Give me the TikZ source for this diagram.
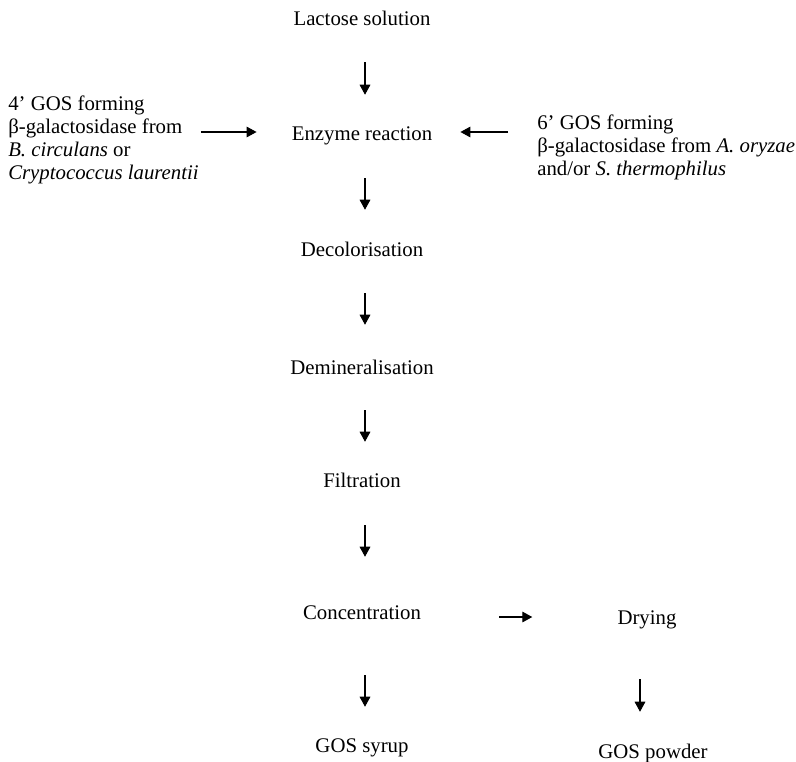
\documentclass[tikz,border=0pt]{standalone}
\usepackage{fontspec}
\setmainfont{Liberation Serif}
\usetikzlibrary{arrows.meta,calc}
\begin{document}
\begin{tikzpicture}[x=0.75pt,y=-0.75pt,
  every node/.style={inner sep=0pt},
  stepbox/.style={font=\fontsize{15.6}{17}\selectfont, text height=7.5pt, text depth=0pt},
  notebox/.style={align=left, anchor=north west, font=\fontsize{15.6}{17.25}\selectfont},
  flow/.style={line width=0.8pt, -{Triangle[length=7.5pt,width=8pt]}}]
\useasboundingbox (0,0) rectangle (796,761);

% main process column
\node[stepbox] (lac) at (362,20)  {Lactose solution};
\node[stepbox] (enz) at (362,135) {Enzyme reaction};
\node[stepbox] (dec) at (362,251) {Decolorisation};
\node[stepbox] (dem) at (362,369) {Demineralisation};
\node[stepbox] (fil) at (362,482) {Filtration};
\node[stepbox] (con) at (362,614) {Concentration};
\node[stepbox] (syr) at (362,747) {GOS syrup};

% drying branch
\node[stepbox] (dry) at (647,619) {Drying};
\node[stepbox] (pow) at (653,753) {GOS powder};

% enzyme sources
\node[notebox] (left) at (8,96)
  {4’ GOS forming\\ β-galactosidase from\\ \textit{B. circulans} or\\ \textit{Cryptococcus laurentii}};
\node[notebox] (right) at (537,115)
  {6’ GOS forming\\ β-galactosidase from \textit{A. oryzae}\\ and/or \textit{S. thermophilus}};

% vertical flow
\draw[flow] ([shift={(3,37)}]lac.south) -- ([shift={(3,-35)}]enz.north);
\draw[flow] ([shift={(3,38)}]enz.south) -- ([shift={(3,-36)}]dec.north);
\draw[flow] ([shift={(3,37)}]dec.south) -- ([shift={(3,-39)}]dem.north);
\draw[flow] ([shift={(3,36)}]dem.south) -- ([shift={(3,-35)}]fil.north);
\draw[flow] ([shift={(3,38)}]fil.south) -- ([shift={(3,-52)}]con.north);
\draw[flow] ([shift={(3,56)}]con.south) -- ([shift={(3,-35)}]syr.north);
\draw[flow] ([shift={(-7,55)}]dry.south) -- ([shift={(-13,-36)}]pow.north);

% horizontal flow
\draw[flow] ($(left.east |- enz.west)+(2,-3)$) -- ([shift={(-35,-3)}]enz.west);
\draw[flow] ($(right.west |- enz.east)+(-29,-3)$) -- ([shift={(28,-3)}]enz.east);
\draw[flow] ([shift={(78,3)}]con.east) -- ([shift={(-85,-2)}]dry.west);
\end{tikzpicture}
\end{document}
